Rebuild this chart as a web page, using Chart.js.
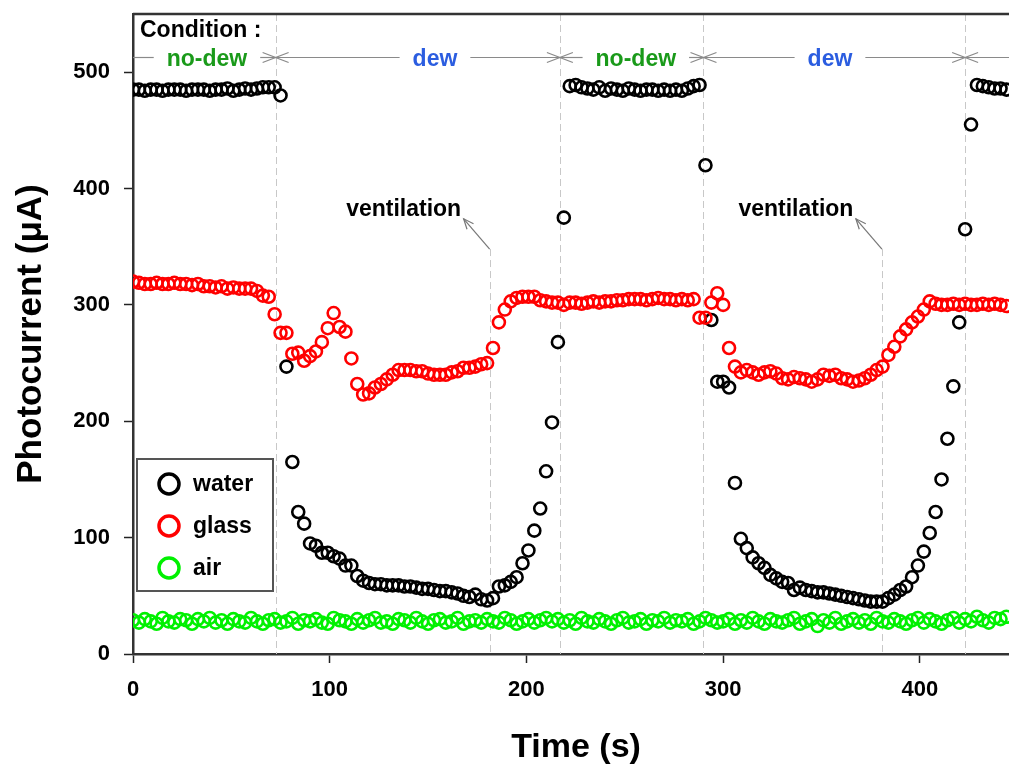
<!DOCTYPE html>
<html><head><meta charset="utf-8">
<script src="https://cdn.jsdelivr.net/npm/chart.js@4.4.1/dist/chart.umd.min.js"></script>
<style>html,body{margin:0;padding:0;background:#fff;overflow:hidden}canvas{display:block}</style>
</head><body>
<canvas id="c" width="1009" height="765"></canvas>
<script>
// ---------------- DATA ----------------
const times = [
  0,3,6,9,12,15,18,21,24,27,
  30,33,36,39,42,45,48,51,54,57,
  60,63,66,69,72,75,78,81,84,87,
  90,93,96,99,102,105,108,111,114,117,
  120,123,126,129,132,135,138,141,144,147,
  150,153,156,159,162,165,168,171,174,177,
  180,183,186,189,192,195,198,201,204,207,
  210,213,216,219,222,225,228,231,234,237,
  240,243,246,249,252,255,258,261,264,267,
  270,273,276,279,282,285,288,291,294,297,
  300,303,306,309,312,315,318,321,324,327,
  330,333,336,339,342,345,348,351,354,357,
  360,363,366,369,372,375,378,381,384,387,
  390,393,396,399,402,405,408,411,414,417,
  420,423,426,429,432,435,438,441,444
];
const water = [
  485,485,484,485,485,484,485,485,485,484,
  485,485,485,484,485,485,486,484,485,486,
  485,486,487,487,487,480,247,165,122,112,
  95,93,87,87,84,82,76,76,67,63,
  61,60,60,59,59,59,58,58,57,56,
  56,55,54,54,53,52,50,49,51,47,
  46,48,58,59,62,66,78,89,106,125,
  157,199,268,375,488,489,487,486,485,487,
  484,486,485,484,486,485,484,485,485,484,
  485,484,485,484,486,488,489,420,287,234,
  234,229,147,99,91,83,78,74,68,65,
  62,61,55,57,55,54,53,53,52,51,
  50,49,48,47,46,45,45,45,48,51,
  55,58,66,76,88,104,122,150,185,230,
  285,365,455,489,488,487,486,486,485
];
const glass = [
  320,319,318,318,319,318,318,319,318,318,
  317,318,316,316,315,316,314,315,314,314,
  314,312,308,307,292,276,276,258,259,252,
  256,260,268,280,293,281,277,254,232,223,
  224,229,232,236,240,244,244,244,243,243,
  241,240,240,240,242,243,246,246,247,249,
  250,263,285,296,303,306,307,307,307,304,
  303,302,302,300,302,302,301,302,303,302,
  303,303,304,304,305,305,305,304,305,306,
  305,305,304,305,304,305,289,289,302,310,
  300,263,247,242,244,242,240,242,243,241,
  237,236,238,237,236,234,236,240,239,240,
  237,236,234,235,237,240,244,247,257,264,
  273,279,285,290,296,303,301,300,300,301,
  300,301,300,300,301,300,301,300,299
];
const air = [
  29,27,30,28,26,31,28,27,30,29,
  26,30,28,31,27,29,26,30,28,27,
  31,28,26,29,30,27,28,31,26,29,
  28,30,27,26,31,29,28,26,30,27,
  29,31,27,28,26,30,29,27,31,28,
  26,29,30,27,28,31,26,28,29,27,
  30,28,27,31,29,26,28,30,27,29,
  31,28,30,27,29,26,31,28,27,30,
  28,26,29,31,27,28,30,26,29,28,
  31,27,29,28,30,26,28,31,29,27,
  28,30,26,29,27,31,28,26,30,28,
  27,29,31,26,28,30,24,29,27,31,
  26,28,30,27,29,26,31,28,27,30,
  28,26,29,31,27,30,28,26,29,31,
  27,30,28,32,29,27,31,30,32
];
const seriesNames = ['water','glass','air'];
const xTicks = [0,100,200,300,400];
const yTicks = [0,100,200,300,400,500];
const conditionTimes = [72.5,217,290,423];          // condition boundaries (s)
const conditionLabels = ['no-dew','dew','no-dew','dew'];
const conditionLabelTimes = [37.6,153.5,255.6,354.3];
const ventTimes = [181.3,380.7];                     // ventilation markers (s)
const ventLabel = 'ventilation';

// ---------------- STYLE ----------------
const FONT = "'Liberation Sans', Arial, Helvetica, sans-serif";
const colors = {water:'#000000', glass:'#ff0000', air:'#00f000'};
const condColors = {'no-dew':'#1a9a1a','dew':'#2b5de0'};

function mk(name, vals, order){
  return {
    label:name, order:order,
    data: times.map((t,i)=>({x:t,y:vals[i]})),
    borderColor: colors[name], backgroundColor:'rgba(0,0,0,0)',
    pointRadius:6, pointBorderWidth:2.6, pointHoverRadius:6, showLine:false
  };
}

const deco = {
  id:'deco',
  beforeDatasetsDraw(chart){
    const {ctx, chartArea:a, scales:{x,y}} = chart;
    ctx.save();
    ctx.strokeStyle='#c8c8c8'; ctx.lineWidth=1; ctx.setLineDash([7,4]);
    conditionTimes.forEach(t=>{
      const px=Math.round(x.getPixelForValue(t))+0.5;
      ctx.beginPath(); ctx.moveTo(px,a.top); ctx.lineTo(px,a.bottom); ctx.stroke();
    });
    ventTimes.forEach(t=>{
      const px=Math.round(x.getPixelForValue(t))+0.5;
      ctx.beginPath(); ctx.moveTo(px,y.getPixelForValue(348)); ctx.lineTo(px,a.bottom); ctx.stroke();
    });
    ctx.restore();
  },
  afterDraw(chart){
    const {ctx, chartArea:a, scales:{x,y}} = chart;
    ctx.save();
    // top frame line
    ctx.strokeStyle='#333'; ctx.lineWidth=2.5;
    ctx.beginPath(); ctx.moveTo(a.left,a.top); ctx.lineTo(a.right+5,a.top); ctx.stroke();

    // Condition header
    ctx.fillStyle='#000'; ctx.font='bold 23px '+FONT; ctx.textBaseline='middle'; ctx.textAlign='left';
    ctx.fillText('Condition :', a.left+7, y.getPixelForValue(535.5));

    // condition arrows
    const ay = Math.round(y.getPixelForValue(513))+0.5;
    const bounds = [x.getPixelForValue(0)].concat(conditionTimes.map(t=>x.getPixelForValue(t))).concat([a.right+5]);
    ctx.strokeStyle='#8a8a8a'; ctx.lineWidth=1.2;
    ctx.font='bold 23px '+FONT; ctx.textAlign='center';
    const head=(px,dir)=>{
      ctx.beginPath();
      ctx.moveTo(px-dir*13, ay-5); ctx.lineTo(px, ay); ctx.lineTo(px-dir*13, ay+5); ctx.stroke();
    };
    for(let i=0;i<bounds.length-1;i++){
      const l=bounds[i], r=bounds[i+1];
      if(i<conditionLabels.length){
        const lab=conditionLabels[i];
        const cx=x.getPixelForValue(conditionLabelTimes[i]);
        const w=ctx.measureText(lab).width;
        ctx.beginPath(); ctx.moveTo(l,ay); ctx.lineTo(cx-w/2-13,ay); ctx.stroke();
        ctx.beginPath(); ctx.moveTo(cx+w/2+13,ay); ctx.lineTo(r,ay); ctx.stroke();
        ctx.fillStyle=condColors[lab];
        ctx.fillText(lab, cx, ay+2);
      } else {
        ctx.beginPath(); ctx.moveTo(l,ay); ctx.lineTo(r,ay); ctx.stroke();
      }
      if(i>0) head(l,-1);
      if(i<conditionTimes.length) head(r,1);
    }

    // ventilation annotations
    ventTimes.forEach(t=>{
      const vx=x.getPixelForValue(t);
      const ty=y.getPixelForValue(348);
      const tipx=vx-26, tipy=y.getPixelForValue(374);
      ctx.strokeStyle='#777'; ctx.lineWidth=1.2;
      ctx.beginPath(); ctx.moveTo(vx,ty); ctx.lineTo(tipx,tipy); ctx.stroke();
      const ang=Math.atan2(tipy-ty,tipx-vx);
      ctx.beginPath();
      ctx.moveTo(tipx-11*Math.cos(ang-0.4), tipy-11*Math.sin(ang-0.4));
      ctx.lineTo(tipx,tipy);
      ctx.lineTo(tipx-11*Math.cos(ang+0.4), tipy-11*Math.sin(ang+0.4));
      ctx.stroke();
      ctx.fillStyle='#000'; ctx.font='bold 23px '+FONT; ctx.textAlign='center';
      ctx.fillText(ventLabel, vx-86, y.getPixelForValue(382));
    });

    // legend box
    const lx=137, ly=459, lw=136, lh=132;
    ctx.fillStyle='#fff'; ctx.fillRect(lx,ly,lw,lh);
    ctx.strokeStyle='#555'; ctx.lineWidth=2; ctx.strokeRect(lx,ly,lw,lh);
    ctx.font='bold 23px '+FONT; ctx.textAlign='left'; ctx.textBaseline='middle';
    chart.data.datasets.forEach((ds,i)=>{
      const cy=ly+25+i*42;
      ctx.strokeStyle=ds.borderColor; ctx.lineWidth=3.5;
      ctx.beginPath(); ctx.arc(lx+32,cy,10,0,Math.PI*2); ctx.stroke();
      ctx.fillStyle='#000'; ctx.fillText(ds.label, lx+56, cy+1);
    });

    // x axis title (centered on the full plot width)
    ctx.font='bold 34px '+FONT; ctx.textAlign='center'; ctx.textBaseline='alphabetic'; ctx.fillStyle='#000';
    ctx.fillText('Time (s)', 576, 757);
    ctx.restore();
  }
};

new Chart(document.getElementById('c'), {
  type:'scatter',
  data:{ datasets:[ mk('water',water,1), mk('glass',glass,0), mk('air',air,2) ] },
  options:{
    responsive:false, animation:false,
    layout:{autoPadding:false, padding:{top:14,left:0,right:0,bottom:0}},
    plugins:{legend:{display:false}, tooltip:{enabled:false}},
    scales:{
      x:{
        type:'linear', min:0, max:445.3,
        afterBuildTicks:s=>{s.ticks=xTicks.map(v=>({value:v}));},
        afterFit:s=>{s.height=111; s.paddingLeft=0; s.paddingRight=0;},
        ticks:{color:'#000', font:{family:FONT, size:22, weight:'bold'}, padding:14},
        grid:{drawOnChartArea:false, drawTicks:true, tickLength:9, tickColor:'#222', tickWidth:1.5},
        border:{display:true, color:'#333', width:2.5},
        title:{display:false}
      },
      y:{
        type:'linear', min:0, max:550,
        afterBuildTicks:s=>{s.ticks=yTicks.map(v=>({value:v}));},
        afterFit:s=>{s.width=133; s.paddingTop=0; s.paddingBottom=0;},
        ticks:{color:'#000', font:{family:FONT, size:22, weight:'bold'}, padding:14},
        grid:{drawOnChartArea:false, drawTicks:true, tickLength:9, tickColor:'#222', tickWidth:1.5},
        border:{display:true, color:'#333', width:2.5},
        title:{display:true, text:'Photocurrent (μA)', color:'#000', font:{family:FONT, size:35, weight:'bold'}, padding:{top:10,bottom:0}}
      }
    }
  },
  plugins:[deco]
});
</script>
</body></html>
